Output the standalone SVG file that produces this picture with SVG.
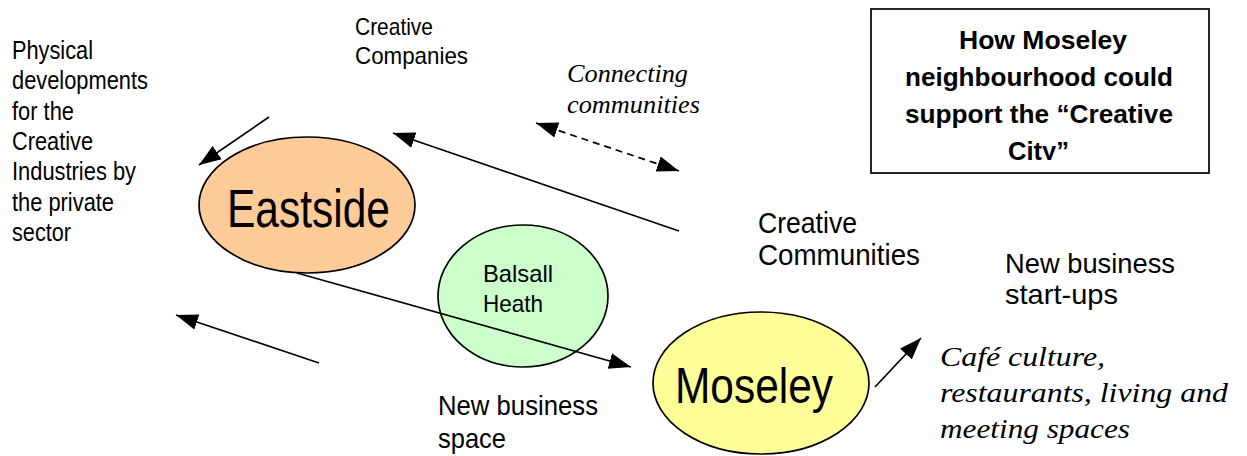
<svg xmlns="http://www.w3.org/2000/svg" width="1247" height="456" viewBox="0 0 1247 456">
<style>
.s{font-family:"Liberation Sans",Arial,sans-serif;fill:#000}
.i{font-family:"Liberation Serif","Times New Roman",serif;font-style:italic;fill:#000}
.c{stroke:#000;stroke-width:1.7;fill:none}
.n{stroke:#000;stroke-width:1.7}
</style>
<defs>
<marker id="ah" markerUnits="userSpaceOnUse" markerWidth="24" markerHeight="18" refX="22" refY="8" orient="auto-start-reverse" viewBox="0 0 24 16">
<path d="M0,0 L22,8 L0,16 Z" fill="#000"/>
</marker>
<clipPath id="clipCity"><rect x="872" y="130" width="336" height="30"/></clipPath>
</defs>
<rect width="1247" height="456" fill="#fff"/>

<g id="node-eastside">
<ellipse class="n" cx="307" cy="205" rx="108" ry="68" fill="#ffcc99"/>
<text class="s" x="227" y="227" font-size="53" textLength="163" lengthAdjust="spacingAndGlyphs">Eastside</text>
</g>
<g id="node-balsall">
<ellipse class="n" cx="523" cy="296" rx="85" ry="71" fill="#ccffcc"/>
<text class="s" x="483" y="282" font-size="24" textLength="70" lengthAdjust="spacingAndGlyphs">Balsall</text>
<text class="s" x="483" y="312" font-size="24" textLength="60" lengthAdjust="spacingAndGlyphs">Heath</text>
</g>
<g id="node-moseley">
<ellipse class="n" cx="761" cy="383" rx="108" ry="71" fill="#ffff99"/>
<text class="s" x="675" y="403" font-size="50" textLength="158" lengthAdjust="spacingAndGlyphs">Moseley</text>
</g>
<g id="node-title">
<rect x="871" y="9" width="338" height="164" fill="#fff" stroke="#000" stroke-width="1.7"/>
<text class="s" x="959" y="49" font-size="25" font-weight="bold" textLength="168" lengthAdjust="spacingAndGlyphs">How Moseley</text>
<text class="s" x="905" y="86" font-size="25" font-weight="bold" textLength="268" lengthAdjust="spacingAndGlyphs">neighbourhood could</text>
<text class="s" x="905" y="123" font-size="25" font-weight="bold" textLength="268" lengthAdjust="spacingAndGlyphs">support the “Creative</text>
<text class="s" x="1008" y="160" font-size="25" font-weight="bold" textLength="61" lengthAdjust="spacingAndGlyphs" clip-path="url(#clipCity)">City”</text>
</g>

<g id="labels">
<text class="s" x="12" y="59" font-size="26" textLength="81" lengthAdjust="spacingAndGlyphs">Physical</text>
<text class="s" x="12" y="89" font-size="26" textLength="136" lengthAdjust="spacingAndGlyphs">developments</text>
<text class="s" x="12" y="120" font-size="26" textLength="62" lengthAdjust="spacingAndGlyphs">for the</text>
<text class="s" x="12" y="150" font-size="26" textLength="81" lengthAdjust="spacingAndGlyphs">Creative</text>
<text class="s" x="12" y="180" font-size="26" textLength="124" lengthAdjust="spacingAndGlyphs">Industries by</text>
<text class="s" x="12" y="211" font-size="26" textLength="102" lengthAdjust="spacingAndGlyphs">the private</text>
<text class="s" x="12" y="241" font-size="26" textLength="59" lengthAdjust="spacingAndGlyphs">sector</text>

<text class="s" x="355" y="35" font-size="24" textLength="78" lengthAdjust="spacingAndGlyphs">Creative</text>
<text class="s" x="355" y="64" font-size="24" textLength="113" lengthAdjust="spacingAndGlyphs">Companies</text>

<text class="i" x="567" y="82" font-size="25" textLength="121" lengthAdjust="spacingAndGlyphs">Connecting</text>
<text class="i" x="567" y="113" font-size="25" textLength="133" lengthAdjust="spacingAndGlyphs">communities</text>

<text class="s" x="758" y="233" font-size="29" textLength="99" lengthAdjust="spacingAndGlyphs">Creative</text>
<text class="s" x="758" y="265" font-size="29" textLength="162" lengthAdjust="spacingAndGlyphs">Communities</text>

<text class="s" x="1005" y="273" font-size="28" textLength="170" lengthAdjust="spacingAndGlyphs">New business</text>
<text class="s" x="1005" y="304" font-size="28" textLength="113" lengthAdjust="spacingAndGlyphs">start-ups</text>

<text class="s" x="438" y="415" font-size="28" textLength="160" lengthAdjust="spacingAndGlyphs">New business</text>
<text class="s" x="438" y="448" font-size="28" textLength="68" lengthAdjust="spacingAndGlyphs">space</text>

<text class="i" x="940" y="366" font-size="28" textLength="165" lengthAdjust="spacingAndGlyphs">Café culture,</text>
<text class="i" x="940" y="402" font-size="28" textLength="288" lengthAdjust="spacingAndGlyphs">restaurants, living and</text>
<text class="i" x="940" y="438" font-size="28" textLength="190" lengthAdjust="spacingAndGlyphs">meeting spaces</text>
</g>

<g id="connectors">
<line class="c" x1="269" y1="117" x2="199" y2="165" marker-end="url(#ah)"/>
<line class="c" x1="679" y1="231" x2="393" y2="133" marker-end="url(#ah)"/>
<line class="c" x1="536" y1="123" x2="679" y2="171" stroke-dasharray="7,5" marker-start="url(#ah)" marker-end="url(#ah)"/>
<line class="c" x1="319" y1="363" x2="176" y2="315" marker-end="url(#ah)"/>
<line class="c" x1="297" y1="273" x2="631" y2="367" marker-end="url(#ah)"/>
<line class="c" x1="875" y1="387" x2="921" y2="338" marker-end="url(#ah)"/>
</g>
</svg>
